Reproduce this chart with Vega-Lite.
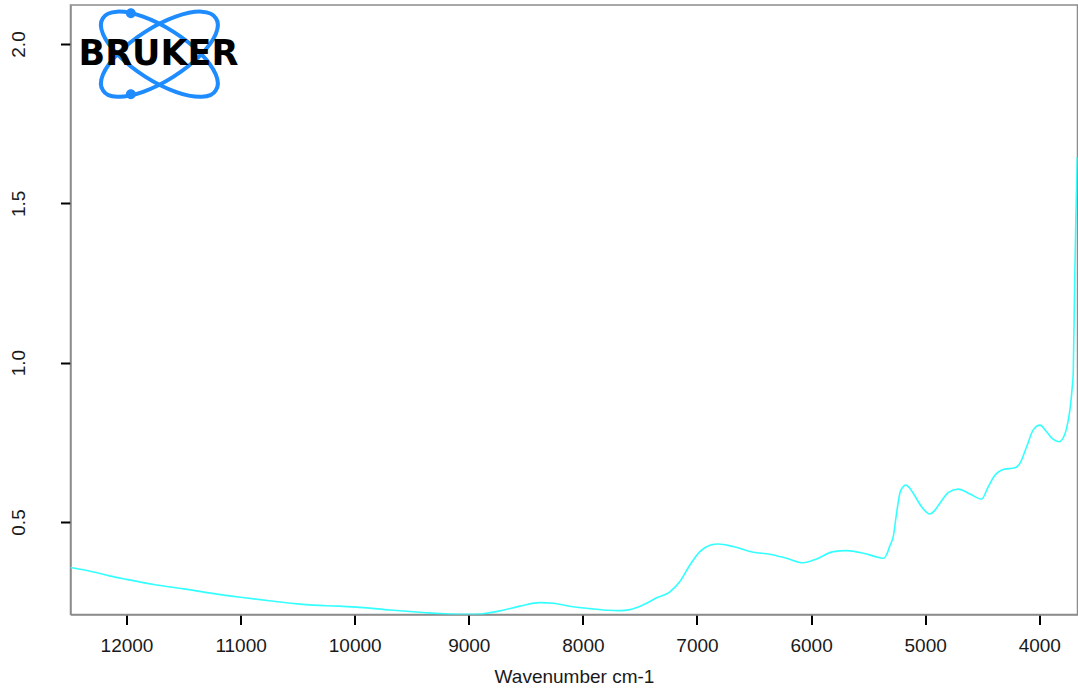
{
  "$schema": "https://vega.github.io/schema/vega-lite/v6.json",
  "width": 1007,
  "height": 609.5,
  "autosize": {"type": "none"},
  "padding": {"left": 70.5, "top": 5, "right": 0.5, "bottom": 73.5},
  "background": "white",
  "config": {
    "view": {"stroke": "#8c8c8c", "strokeWidth": 1.5},
    "font": "Liberation Sans",
    "axis": {
      "grid": false,
      "domainColor": "#8c8c8c",
      "domainWidth": 1.5,
      "tickColor": "#000000",
      "tickWidth": 2,
      "tickSize": 10,
      "labelFontSize": 19,
      "labelColor": "#1a1a1a",
      "labelFont": "Liberation Sans",
      "titleFont": "Liberation Sans",
      "titleFontSize": 19,
      "titleFontWeight": "normal",
      "titleColor": "#1a1a1a"
    }
  },
  "datasets": {
    "spectrum": [
      {"wavenumber": 12491, "absorbance": 0.357},
      {"wavenumber": 12300, "absorbance": 0.344},
      {"wavenumber": 12150, "absorbance": 0.331},
      {"wavenumber": 12000, "absorbance": 0.320},
      {"wavenumber": 11750, "absorbance": 0.303},
      {"wavenumber": 11500, "absorbance": 0.290},
      {"wavenumber": 11250, "absorbance": 0.276},
      {"wavenumber": 11000, "absorbance": 0.264},
      {"wavenumber": 10750, "absorbance": 0.253},
      {"wavenumber": 10500, "absorbance": 0.243},
      {"wavenumber": 10250, "absorbance": 0.237},
      {"wavenumber": 10130, "absorbance": 0.236},
      {"wavenumber": 9955, "absorbance": 0.232},
      {"wavenumber": 9692, "absorbance": 0.224},
      {"wavenumber": 9400, "absorbance": 0.216},
      {"wavenumber": 9166, "absorbance": 0.211},
      {"wavenumber": 9000, "absorbance": 0.210},
      {"wavenumber": 8903, "absorbance": 0.211},
      {"wavenumber": 8728, "absorbance": 0.221},
      {"wavenumber": 8552, "absorbance": 0.236},
      {"wavenumber": 8377, "absorbance": 0.247},
      {"wavenumber": 8261, "absorbance": 0.245},
      {"wavenumber": 8085, "absorbance": 0.234},
      {"wavenumber": 7910, "absorbance": 0.227},
      {"wavenumber": 7780, "absorbance": 0.223},
      {"wavenumber": 7674, "absorbance": 0.222},
      {"wavenumber": 7587, "absorbance": 0.225},
      {"wavenumber": 7471, "absorbance": 0.240},
      {"wavenumber": 7354, "absorbance": 0.262},
      {"wavenumber": 7237, "absorbance": 0.281},
      {"wavenumber": 7150, "absorbance": 0.313},
      {"wavenumber": 7062, "absorbance": 0.365},
      {"wavenumber": 6975, "absorbance": 0.407},
      {"wavenumber": 6887, "absorbance": 0.427},
      {"wavenumber": 6814, "absorbance": 0.431},
      {"wavenumber": 6683, "absorbance": 0.423},
      {"wavenumber": 6507, "absorbance": 0.405},
      {"wavenumber": 6361, "absorbance": 0.399},
      {"wavenumber": 6215, "absorbance": 0.386},
      {"wavenumber": 6069, "absorbance": 0.372},
      {"wavenumber": 5952, "absorbance": 0.384},
      {"wavenumber": 5806, "absorbance": 0.407},
      {"wavenumber": 5689, "absorbance": 0.410},
      {"wavenumber": 5543, "absorbance": 0.402},
      {"wavenumber": 5397, "absorbance": 0.388},
      {"wavenumber": 5365, "absorbance": 0.386},
      {"wavenumber": 5338, "absorbance": 0.398},
      {"wavenumber": 5310, "absorbance": 0.425},
      {"wavenumber": 5280, "absorbance": 0.454},
      {"wavenumber": 5251, "absorbance": 0.527},
      {"wavenumber": 5222, "absorbance": 0.590},
      {"wavenumber": 5195, "absorbance": 0.610},
      {"wavenumber": 5169, "absorbance": 0.616},
      {"wavenumber": 5140, "absorbance": 0.608},
      {"wavenumber": 5105, "absorbance": 0.590},
      {"wavenumber": 5032, "absorbance": 0.548},
      {"wavenumber": 4959, "absorbance": 0.525},
      {"wavenumber": 4920, "absorbance": 0.535},
      {"wavenumber": 4871, "absorbance": 0.559},
      {"wavenumber": 4798, "absorbance": 0.592},
      {"wavenumber": 4711, "absorbance": 0.603},
      {"wavenumber": 4608, "absorbance": 0.588},
      {"wavenumber": 4505, "absorbance": 0.572},
      {"wavenumber": 4447, "absorbance": 0.611},
      {"wavenumber": 4389, "absorbance": 0.647},
      {"wavenumber": 4316, "absorbance": 0.665},
      {"wavenumber": 4213, "absorbance": 0.670},
      {"wavenumber": 4170, "absorbance": 0.684},
      {"wavenumber": 4111, "absorbance": 0.736},
      {"wavenumber": 4053, "absorbance": 0.789},
      {"wavenumber": 3994, "absorbance": 0.804},
      {"wavenumber": 3936, "absorbance": 0.783},
      {"wavenumber": 3877, "absorbance": 0.759},
      {"wavenumber": 3827, "absorbance": 0.752},
      {"wavenumber": 3774, "absorbance": 0.778},
      {"wavenumber": 3746, "absorbance": 0.820},
      {"wavenumber": 3725, "absorbance": 0.870},
      {"wavenumber": 3712, "absorbance": 0.920},
      {"wavenumber": 3702, "absorbance": 0.970},
      {"wavenumber": 3690, "absorbance": 1.249},
      {"wavenumber": 3679, "absorbance": 1.458},
      {"wavenumber": 3667, "absorbance": 1.645}
    ],
    "logo": [{"name": "BRUKER"}]
  },
  "layer": [
    {
      "data": {"name": "spectrum"},
      "mark": {"type": "line", "color": "#33ffff", "strokeWidth": 1.6, "clip": true, "interpolate": "monotone"},
      "encoding": {
        "x": {
          "field": "wavenumber",
          "type": "quantitative",
          "scale": {"domain": [12491, 3665], "nice": false, "zero": false},
          "axis": {
            "values": [12000, 11000, 10000, 9000, 8000, 7000, 6000, 5000, 4000],
            "format": "d",
            "labelPadding": 12,
            "titlePadding": 12,
            "title": "Wavenumber cm-1"
          }
        },
        "y": {
          "field": "absorbance",
          "type": "quantitative",
          "scale": {"domain": [0.2097, 2.1224], "nice": false, "zero": false},
          "axis": {
            "values": [0.5, 1.0, 1.5, 2.0],
            "format": ".1f",
            "labelAngle": -90,
            "labelPadding": 32,
            "title": null
          }
        }
      }
    },
    {
      "data": {"name": "logo"},
      "mark": {
        "type": "point",
        "shape": "M -0.807 -0.514 A 0.957 0.371 32.5 1 1 0.807 0.514 A 0.957 0.371 32.5 1 1 -0.807 -0.514 Z",
        "size": 19600,
        "filled": false,
        "stroke": "#1e8cff",
        "strokeWidth": 4,
        "opacity": 1
      },
      "encoding": {
        "x": {"datum": 11712, "type": "quantitative"},
        "y": {"datum": 1.968, "type": "quantitative"}
      }
    },
    {
      "data": {"name": "logo"},
      "mark": {
        "type": "point",
        "shape": "M -0.807 0.514 A 0.957 0.371 -32.5 1 1 0.807 -0.514 A 0.957 0.371 -32.5 1 1 -0.807 0.514 Z",
        "size": 19600,
        "filled": false,
        "stroke": "#1e8cff",
        "strokeWidth": 4,
        "opacity": 1
      },
      "encoding": {
        "x": {"datum": 11712, "type": "quantitative"},
        "y": {"datum": 1.968, "type": "quantitative"}
      }
    },
    {
      "data": {"name": "logo"},
      "mark": {
        "type": "point",
        "shape": "M -0.478 -0.586 A 0.071 0.071 0 1 1 -0.336 -0.586 A 0.071 0.071 0 1 1 -0.478 -0.586 Z M -0.478 0.571 A 0.071 0.071 0 1 1 -0.336 0.571 A 0.071 0.071 0 1 1 -0.478 0.571 Z",
        "size": 19600,
        "filled": true,
        "fill": "#1e8cff",
        "strokeWidth": 0,
        "opacity": 1
      },
      "encoding": {
        "x": {"datum": 11712, "type": "quantitative"},
        "y": {"datum": 1.968, "type": "quantitative"}
      }
    },
    {
      "data": {"name": "logo"},
      "mark": {
        "type": "text",
        "font": "DejaVu Sans",
        "fontWeight": "bold",
        "fontSize": 35,
        "color": "#000000",
        "align": "center",
        "baseline": "middle"
      },
      "encoding": {
        "x": {"datum": 11720, "type": "quantitative"},
        "y": {"datum": 1.968, "type": "quantitative"},
        "text": {"field": "name"}
      }
    }
  ]
}
